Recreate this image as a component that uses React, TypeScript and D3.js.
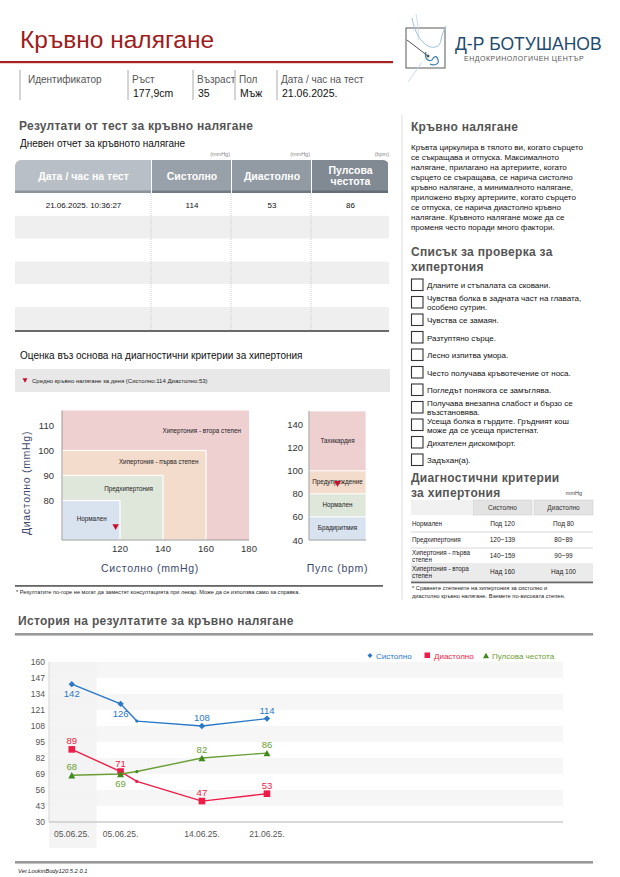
import React from 'react';
import * as d3 from 'd3';

const FONT = '"Liberation Sans", Arial, Helvetica, sans-serif';

// ---- header ----
const infoLabels = ['Идентификатор', 'Ръст', 'Възраст', 'Пол', 'Дата / час на тест'];
const infoValues = ['', '177,9cm', '35', 'Мъж', '21.06.2025.'];

// ---- daily report table ----
const tableHeaders = [['Дата / час на тест'], ['Систолно'], ['Диастолно'], ['Пулсова', 'честота']];
const tableUnits = ['', '(mmHg)', '(mmHg)', '(bpm)'];
const tableRows = [
  ['21.06.2025. 10:36:27', '114', '53', '86'],
  ['', '', '', ''],
  ['', '', '', ''],
  ['', '', '', ''],
  ['', '', '', ''],
  ['', '', '', ''],
];

// ---- blood pressure zones ----
const bpZoneNames = ['Хипертония - втора степен', 'Хипертония - първа степен', 'Предхипертония', 'Нормален'];
const bpZoneSysMax = [180, 160, 140, 120];
const bpZoneDiaMax = [116, 100, 90, 80];
const bpZoneLabelSys = [158, 138, 124, 81];
const bpZoneLabelDia = [108, 95.5, 84.5, 61];
const bpXTicks = [120, 140, 160, 180];
const bpYTicks = [80, 90, 100, 110];
const avgSys = 114;
const avgDia = 53;

// ---- pulse zones ----
const pulseZoneNames = ['Тахикардия', 'Предупреждение', 'Нормален', 'Брадиритмия'];
const pulseZoneLo = [100, 80, 60, 40];
const pulseZoneHi = [152, 100, 80, 60];
const pulseTicks = [40, 60, 80, 100, 120, 140];
const avgPulse = 86;

const zoneColors = ['#efd0d1', '#f3dccb', '#dfe6da', '#d9e3f0'];

// ---- right column ----
const infoText = [
  'Кръвта циркулира в тялото ви, когато сърцето',
  'се съкращава и отпуска. Максималното',
  'налягане, прилагано на артериите, когато',
  'сърцето се съкращава, се нарича систолно',
  'кръвно налягане, а минималното налягане,',
  'приложено върху артериите, когато сърцето',
  'се отпуска, се нарича диастолно кръвно',
  'налягане. Кръвното налягане може да се',
  'променя често поради много фактори.',
];
const checklist = [
  ['Дланите и стъпалата са сковани.'],
  ['Чувства болка в задната част на главата,', 'особено сутрин.'],
  ['Чувства се замаян.'],
  ['Разтуптяно сърце.'],
  ['Лесно изпитва умора.'],
  ['Често получава кръвотечение от носа.'],
  ['Погледът понякога се замъглява.'],
  ['Получава внезапна слабост и бързо се', 'възстановява.'],
  ['Усеща болка в гърдите. Гръдният кош', 'може да се усеща пристегнат.'],
  ['Дихателен дискомфорт.'],
  ['Задъхан(а).'],
];
const criteriaNames = [['Нормален'], ['Предхипертония'], ['Хипертония - първа', 'степен'], ['Хипертония - втора', 'степен']];
const criteriaSys = ['Под 120', '120~139', '140~159', 'Над 160'];
const criteriaDia = ['Под 80', '80~89', '90~99', 'Над 100'];

// ---- history ----
const historyDates = ['05.06.25.', '05.06.25.', '', '14.06.25.', '21.06.25.'];
const historySlot = [0, 0.75, 1, 2, 3];
const systolic = [142, 126, 112, 108, 114];
const diastolic = [89, 71, 63, 47, 53];
const pulse = [68, 69, 71, 82, 86];
const sysLabelBelow = [true, true, false, false, false];
const diaLabelBelow = [false, false, false, false, false];
const pulseLabelBelow = [false, true, false, false, false];
const historyTicks = [30, 43, 56, 69, 82, 95, 108, 121, 134, 147, 160];

const BLUE = '#2a78c8';
const RED = '#ee1c48';
const GREEN = '#6b9e35';
const GREEN_MK = '#3f8a1c';
const HEAD_GRAY = '#555';

const tri = (cx: number, cy: number, s: number, down: boolean) => {
  const h = s * 0.9;
  return down
    ? `M${cx - s / 2},${cy - h / 2}L${cx + s / 2},${cy - h / 2}L${cx},${cy + h / 2}Z`
    : `M${cx - s / 2},${cy + h / 2}L${cx + s / 2},${cy + h / 2}L${cx},${cy - h / 2}Z`;
};

function Header() {
  const cols = [20, 128, 193, 235, 277];
  return (
    <g>
      <text x={20} y={48} fontSize={24.5} fill="#9e1c1c">Кръвно налягане</text>
      <rect x={0} y={61} width={393} height={2.2} fill="#a42222" />
      {infoLabels.map((l, i) => (
        <g key={i}>
          <line x1={cols[i]} x2={cols[i]} y1={70} y2={100} stroke="#aaa" />
          <text x={cols[i] + (i === 0 ? 8 : 4)} y={83} fontSize={10} fill="#555">{l}</text>
          <text x={cols[i] + 5} y={97} fontSize={10.5} fill="#111">{infoValues[i]}</text>
        </g>
      ))}
      {/* logo */}
      <g>
        <rect x={406} y={28} width={39} height={40} fill="none" stroke="#666" strokeWidth={1.1} />
        <path d="M412,18 C414,30 420,42 428,46 C434,49 440,47 441,40 C442,34 444,30 446,26" fill="none" stroke="#9cc2df" strokeWidth={1} />
        <path d="M416,14 C418,24 419,32 418,40" fill="none" stroke="#b9d4e8" strokeWidth={0.8} />
        <path d="M426,52 C424,58 428,62 432,60 C434,56 437,55 438,60 C440,64 434,66 430,64" fill="none" stroke="#3c7fb0" strokeWidth={1.2} />
        <line x1={407} y1={40} x2={428} y2={56} stroke="#555" strokeWidth={1} />
        <circle cx={428} cy={56} r={1.5} fill="#555" />
        <path d="M422,62 L408,82" stroke="#b9d4e8" strokeWidth={0.8} />
      </g>
      <text x={455} y={50} fontSize={17.5} fill="#1f4c6e">Д-Р БОТУШАНОВ</text>
      <text x={464} y={61} fontSize={7} fill="#555" letterSpacing={0.5}>ЕНДОКРИНОЛОГИЧЕН ЦЕНТЪР</text>
    </g>
  );
}

function DailyTable() {
  const colX = [15, 152, 232, 312, 389];
  const headFill = ['#b9bfc6', '#98a0a9', '#929aa3', '#818a93'];
  const stripFill = ['#8c939b', '#737b84', '#6f7780', '#656d76'];
  const rowY = d3.scaleBand<number>().domain(d3.range(tableRows.length)).range([193, 330]);
  return (
    <g>
      <text x={19} y={130} fontSize={12} fontWeight="bold" fill={HEAD_GRAY} letterSpacing={0.25}>Резултати от тест за кръвно налягане</text>
      <text x={20} y={147} fontSize={10} fill="#111">Дневен отчет за кръвното налягане</text>
      {tableUnits.map((u, i) => u && (
        <text key={i} x={colX[i + 1] - (i === 3 ? 0 : 2)} y={156} fontSize={5.5} fill="#888" textAnchor="end">{u}</text>
      ))}
      <defs>
        <clipPath id="hdrClip"><rect x={15} y={160} width={374} height={60} rx={6} /></clipPath>
      </defs>
      <g clipPath="url(#hdrClip)">
        {tableHeaders.map((h, i) => (
          <g key={i}>
            <rect x={colX[i]} y={160} width={colX[i + 1] - colX[i] - 1} height={33} fill={headFill[i]} />
            <rect x={colX[i]} y={190.5} width={colX[i + 1] - colX[i] - 1} height={2.5} fill={stripFill[i]} />
          </g>
        ))}
      </g>
      {tableHeaders.map((h, i) => {
        const cx = (colX[i] + colX[i + 1]) / 2;
        return h.map((t, j) => (
          <text key={i + '-' + j} x={cx} y={h.length === 1 ? 179.5 : 173.5 + j * 11} fontSize={10.5} fontWeight="bold" fill="#fff" textAnchor="middle">{t}</text>
        ));
      })}
      {tableRows.map((r, ri) => (
        <g key={ri}>
          <rect x={15} y={rowY(ri)} width={374} height={rowY.bandwidth()} fill={ri % 2 ? '#efefef' : '#fff'} />
          {r.map((c, ci) => (
            <text key={ci} x={(colX[ci] + colX[ci + 1]) / 2} y={(rowY(ri) as number) + rowY.bandwidth() / 2 + 3.5} fontSize={8} fill="#111" textAnchor="middle">{c}</text>
          ))}
        </g>
      ))}
      {[151, 231, 311].map((x) => (
        <line key={x} x1={x} x2={x} y1={193} y2={330} stroke="#ccc" strokeDasharray="1,1" />
      ))}
      <rect x={15} y={330} width={374} height={2} fill="#6a6a6a" />
    </g>
  );
}

function Diagnosis() {
  const bx = d3.scaleLinear().domain([40, 120, 180]).range([62, 120, 249]);
  const by = d3.scaleLinear().domain([40, 80, 116]).range([540, 500.5, 410.5]);
  const py = d3.scaleLinear().domain([40, 152]).range([540, 411]);
  const px0 = 309, px1 = 366;
  const axisColor = '#3d4a6c';
  return (
    <g>
      <text x={20} y={359} fontSize={10} fill="#111">Оценка въз основа на диагностични критерии за хипертония</text>
      <rect x={15} y={369} width={375} height={23} fill="#e8e8e8" />
      <path d={tri(25, 380.5, 5, true)} fill="#c8102e" />
      <text x={32} y={383} fontSize={6} fill="#222">{`Средно кръвно налягане за деня (Систолно:${avgSys}  Диастолно:${avgDia})`}</text>

      {bpZoneNames.map((n, i) => (
        <rect key={n} x={bx(40)} y={by(bpZoneDiaMax[i])} width={bx(bpZoneSysMax[i]) - bx(40)} height={by(40) - by(bpZoneDiaMax[i])}
          fill={zoneColors[i]} stroke="#fff" strokeWidth={i === 0 ? 0 : 1.2} />
      ))}
      {bpZoneNames.map((n, i) => (
        <text key={n + 't'} x={bx(bpZoneLabelSys[i])} y={by(bpZoneLabelDia[i]) + 2} fontSize={6.3} fill="#222" textAnchor="middle">{n}</text>
      ))}
      <line x1={bx(40)} x2={bx(40)} y1={by(116)} y2={by(40)} stroke="#999" />
      <line x1={bx(40)} x2={bx(180)} y1={by(40)} y2={by(40)} stroke="#999" />
      {bpYTicks.map((t) => (
        <text key={t} x={54} y={by(t) + 3.5} fontSize={9.5} fill="#333" textAnchor="end">{t}</text>
      ))}
      {bpXTicks.map((t) => (
        <text key={t} x={bx(t)} y={552} fontSize={9.5} fill="#333" textAnchor="middle">{t}</text>
      ))}
      <path d={tri(bx(avgSys), by(avgDia), 6.5, true)} fill="#c8102e" />
      <text transform="translate(30,483) rotate(-90)" fontSize={10.5} fill={axisColor} letterSpacing={0.7} textAnchor="middle">Диастолно (mmHg)</text>
      <text x={150} y={572} fontSize={10.5} fill={axisColor} letterSpacing={0.7} textAnchor="middle">Систолно (mmHg)</text>

      {pulseZoneNames.map((n, i) => (
        <rect key={n} x={px0} y={py(pulseZoneHi[i])} width={px1 - px0} height={py(pulseZoneLo[i]) - py(pulseZoneHi[i])}
          fill={zoneColors[i]} stroke="#fff" strokeWidth={0.8} />
      ))}
      {pulseZoneNames.map((n, i) => (
        <text key={n + 't'} x={(px0 + px1) / 2} y={py((pulseZoneLo[i] + pulseZoneHi[i]) / 2) + 2} fontSize={6.3} fill="#222" textAnchor="middle">{n}</text>
      ))}
      <line x1={px0} x2={px0} y1={411} y2={540} stroke="#999" />
      <line x1={px0} x2={px1} y1={540} y2={540} stroke="#999" />
      {pulseTicks.map((t) => (
        <text key={t} x={303} y={py(t) + 3.5} fontSize={9.5} fill="#333" textAnchor="end">{t}</text>
      ))}
      <path d={tri((px0 + px1) / 2, py(avgPulse) - 3, 6.5, true)} fill="#c8102e" />
      <text x={(px0 + px1) / 2} y={572} fontSize={10.5} fill={axisColor} letterSpacing={0.7} textAnchor="middle">Пулс (bpm)</text>

      <rect x={15} y={585} width={368} height={1.8} fill="#666" />
      <text x={16} y={594} fontSize={5.6} fill="#222">* Резултатите по-горе не могат да заместят консултацията при лекар. Може да се използва само за справка.</text>
    </g>
  );
}

function RightColumn() {
  const itemY = d3.scaleLinear().domain([0, checklist.length - 1]).range([285, 460]);
  const tx = [411, 473, 534, 593];
  const critRowTop = [516, 532, 548, 564];
  const critRowH = 16;
  return (
    <g>
      <line x1={402} x2={402} y1={115} y2={600} stroke="#ddd" />
      <text x={411} y={131} fontSize={12} fontWeight="bold" fill={HEAD_GRAY} letterSpacing={0.3}>Кръвно налягане</text>
      {infoText.map((t, i) => (
        <text key={i} x={411} y={150 + i * 10} fontSize={8} fill="#111">{t}</text>
      ))}
      <text x={411} y={256} fontSize={12} fontWeight="bold" fill={HEAD_GRAY} letterSpacing={0.3}>Списък за проверка за</text>
      <text x={411} y={271} fontSize={12} fontWeight="bold" fill={HEAD_GRAY} letterSpacing={0.3}>хипертония</text>
      {checklist.map((lines, i) => {
        const cy = itemY(i);
        return (
          <g key={i}>
            <rect x={411.5} y={cy - 6} width={11.5} height={11.5} fill="#fff" stroke="#333" strokeWidth={1.1} />
            {lines.map((l, j) => (
              <text key={j} x={427} y={cy + 3 + (lines.length === 2 ? (j - 0.5) * 9 : 0)} fontSize={8} fill="#111">{l}</text>
            ))}
          </g>
        );
      })}
      <text x={411} y={482} fontSize={12} fontWeight="bold" fill={HEAD_GRAY} letterSpacing={0.3}>Диагностични критерии</text>
      <text x={411} y={497} fontSize={12} fontWeight="bold" fill={HEAD_GRAY} letterSpacing={0.3}>за хипертония</text>
      <text x={582} y={495} fontSize={5.5} fill="#444" textAnchor="end">mmHg</text>
      <rect x={tx[0]} y={500} width={tx[1] - tx[0] - 1} height={15} fill="#f1f1f1" />
      <rect x={tx[1]} y={500} width={tx[2] - tx[1] - 2} height={15} fill="#e3e3e3" stroke="#d0d0d0" strokeWidth={0.6} />
      <rect x={tx[2]} y={500} width={tx[3] - tx[2]} height={15} fill="#e3e3e3" stroke="#d0d0d0" strokeWidth={0.6} />
      <text x={(tx[1] + tx[2]) / 2 - 1} y={510} fontSize={6.5} fill="#333" textAnchor="middle">Систолно</text>
      <text x={(tx[2] + tx[3]) / 2} y={510} fontSize={6.5} fill="#333" textAnchor="middle">Диастолно</text>
      {criteriaNames.map((n, i) => {
        const top = critRowTop[i];
        const mid = top + critRowH / 2 + 2.3;
        return (
          <g key={i}>
            {i === 3 && <rect x={tx[0]} y={top} width={tx[3] - tx[0]} height={critRowH + 1} fill="#ebebeb" />}
            {i < 3 && <line x1={tx[0]} x2={tx[3]} y1={top + critRowH} y2={top + critRowH} stroke="#d8d8d8" />}
            {n.map((l, j) => (
              <text key={j} x={412} y={mid + (n.length === 2 ? (j - 0.5) * 7 : 0)} fontSize={6.3} fill="#222">{l}</text>
            ))}
            <text x={(tx[1] + tx[2]) / 2 - 1} y={mid} fontSize={6.5} fill="#222" textAnchor="middle">{criteriaSys[i]}</text>
            <text x={(tx[2] + tx[3]) / 2} y={mid} fontSize={6.5} fill="#222" textAnchor="middle">{criteriaDia[i]}</text>
          </g>
        );
      })}
      <rect x={tx[0]} y={581.5} width={tx[3] - tx[0]} height={1.8} fill="#666" />
      <text x={412} y={590} fontSize={5.7} fill="#222">* Сравнете степените на хипертония за систолно и</text>
      <text x={412} y={598} fontSize={5.7} fill="#222">диастолно кръвно налягане. Вземете по-високата степен.</text>
    </g>
  );
}

function History() {
  const x = d3.scaleLinear().domain([-0.35, 7.55]).range([49, 563]);
  const y = d3.scaleLinear().domain([30, 160]).range([822, 662]);
  const line = d3.line<number>().x((_, i) => x(historySlot[i])).y((v) => y(v));
  const bands = historyTicks.slice(0, -1).filter((_, i) => i % 2 === 1);
  const series = [
    { vals: systolic, color: BLUE, mk: BLUE, below: sysLabelBelow, kind: 'diamond' },
    { vals: diastolic, color: RED, mk: RED, below: diaLabelBelow, kind: 'square' },
    { vals: pulse, color: GREEN, mk: GREEN_MK, below: pulseLabelBelow, kind: 'triangle' },
  ];
  const marker = (kind: string, cx: number, cy: number, fill: string, small: boolean) => {
    if (small) return <circle cx={cx} cy={cy} r={1.6} fill={fill} />;
    if (kind === 'diamond') return <path d={`M${cx},${cy - 3.2}L${cx + 3.2},${cy}L${cx},${cy + 3.2}L${cx - 3.2},${cy}Z`} fill={fill} />;
    if (kind === 'square') return <rect x={cx - 3.3} y={cy - 3.3} width={6.6} height={6.6} fill={fill} />;
    return <path d={tri(cx, cy, 7, false)} fill={fill} />;
  };
  return (
    <g>
      <text x={18} y={625} fontSize={12} fontWeight="bold" fill={HEAD_GRAY} letterSpacing={0.3}>История на резултатите за кръвно налягане</text>
      <rect x={15} y={633} width={578} height={2.6} fill="#999" />

      {bands.map((b) => (
        <rect key={b} x={x(-0.35)} y={y(b + 13)} width={x(7.55) - x(-0.35)} height={y(b) - y(b + 13)} fill="#f6f6f6" />
      ))}
      <rect x={x(-0.35)} y={y(160)} width={x(0.38) - x(-0.35)} height={848 - y(160)} fill="#f3f3f3" opacity={0.9} />
      <line x1={x(-0.35)} x2={x(-0.35)} y1={y(160)} y2={y(30)} stroke="#d4d4d4" />
      <line x1={x(-0.35)} x2={x(7.55)} y1={y(30)} y2={y(30)} stroke="#ccc" strokeWidth={1.5} />
      {historyTicks.map((t) => (
        <text key={t} x={45} y={y(t) + 3} fontSize={8.5} fill="#555" textAnchor="end">{t}</text>
      ))}
      {historyDates.map((d, i) => d && (
        <text key={i} x={x(historySlot[i])} y={837} fontSize={8.5} fill="#555" textAnchor="middle">{d}</text>
      ))}

      {series.map((s, si) => (
        <g key={si}>
          <path d={line(s.vals) as string} fill="none" stroke={s.color} strokeWidth={1.4} />
          {s.vals.map((v, i) => (
            <g key={i}>
              {marker(s.kind, x(historySlot[i]), y(v), s.mk, !historyDates[i])}
              {historyDates[i] && (
                <text x={x(historySlot[i])} y={y(v) + (s.below[i] ? 13 : -5)} fontSize={9.5} fill={s.color} textAnchor="middle">{v}</text>
              )}
            </g>
          ))}
        </g>
      ))}

      {/* legend */}
      <path d={`M370,653L372.5,655.5L370,658L367.5,655.5Z`} fill={BLUE} />
      <text x={376} y={658.5} fontSize={8} fill={BLUE}>Систолно</text>
      <rect x={424.5} y={652.5} width={5.5} height={5.5} fill={RED} />
      <text x={434} y={658.5} fontSize={8} fill={RED}>Диастолно</text>
      <path d={tri(486, 655.5, 6, false)} fill={GREEN_MK} />
      <text x={492} y={658.5} fontSize={8} fill={GREEN}>Пулсова честота</text>

      <rect x={15} y={861} width={578} height={2.6} fill="#999" />
      <text x={18} y={873} fontSize={5.8} fontStyle="italic" fill="#222">Ver.LookinBody120.5.2.0.1</text>
    </g>
  );
}

export default function App() {
  return (
    <svg width={620} height={877} viewBox="0 0 620 877" style={{ position: 'absolute', left: 0, top: 0, background: '#fff' }} fontFamily={FONT}>
      <rect width={620} height={877} fill="#fff" />
      <Header />
      <DailyTable />
      <Diagnosis />
      <RightColumn />
      <History />
    </svg>
  );
}
